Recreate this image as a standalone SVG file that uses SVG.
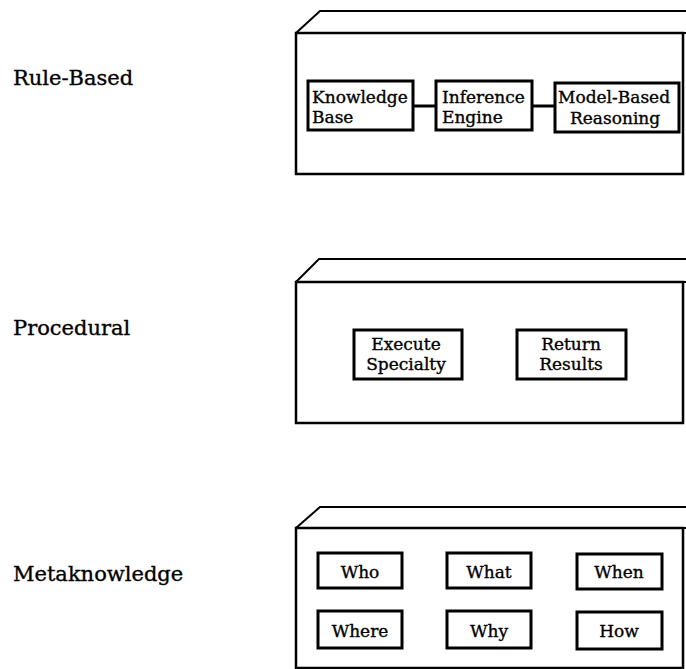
<svg xmlns="http://www.w3.org/2000/svg" width="686" height="669" viewBox="0 0 686 669">
  <style>
    text { font-family: "DejaVu Serif", "Liberation Serif", serif; font-size: 17px; fill: #000; stroke: #000; stroke-width: 0.35; }
    .side { font-size: 21px; }
    .mid { text-anchor: middle; }
    .shell { fill: #fff; stroke: #000; stroke-width: 2.5; stroke-linejoin: miter; }
    .lid { fill: #fff; stroke: #000; stroke-width: 2; stroke-linejoin: miter; }
    .box { fill: #fff; stroke: #000; stroke-width: 3; }
    .link { stroke: #000; stroke-width: 3; fill: none; }
  </style>

  <!-- row labels -->
  <text class="side" x="13" y="85">Rule-Based</text>
  <text class="side" x="13" y="335">Procedural</text>
  <text class="side" x="13" y="581">Metaknowledge</text>

  <!-- Rule-Based module -->
  <g id="rule-based">
    <path class="lid" d="M296 33 L320 11 L692 11 L692 33"/>
    <rect class="shell" x="296" y="33" width="387" height="141"/>
    <line class="lid" x1="683" y1="33" x2="692" y2="33"/>
  </g>
  <g id="knowledge-base">
    <rect class="box" x="308" y="81" width="105" height="49"/>
    <text x="312" y="103">Knowledge</text>
    <text x="312" y="123">Base</text>
  </g>
  <g id="inference-engine">
    <rect class="box" x="436" y="81" width="96" height="49"/>
    <text x="442" y="103">Inference</text>
    <text x="442" y="123">Engine</text>
  </g>
  <g id="model-based-reasoning">
    <rect class="box" x="555" y="83" width="124" height="49"/>
    <text x="558" y="103">Model-Based</text>
    <text x="570" y="124">Reasoning</text>
  </g>

  <!-- Procedural module -->
  <g id="procedural">
    <path class="lid" d="M296 282 L319 259 L692 259 L692 282"/>
    <rect class="shell" x="296" y="282" width="387" height="141"/>
    <line class="lid" x1="683" y1="282" x2="692" y2="282"/>
  </g>
  <g id="execute-specialty">
    <rect class="box" x="354" y="330" width="108" height="49"/>
    <text class="mid" x="406" y="350">Execute</text>
    <text class="mid" x="406" y="370">Specialty</text>
  </g>
  <g id="return-results">
    <rect class="box" x="517" y="330" width="109" height="49"/>
    <text class="mid" x="571" y="350">Return</text>
    <text class="mid" x="571" y="370">Results</text>
  </g>

  <!-- Metaknowledge module -->
  <g id="metaknowledge">
    <path class="lid" d="M296 528 L320 507 L692 507 L692 528"/>
    <rect class="shell" x="296" y="528" width="387" height="140"/>
    <line class="lid" x1="683" y1="528" x2="692" y2="528"/>
  </g>
  <g id="who">
    <rect class="box" x="318" y="553" width="84" height="35"/>
    <text class="mid" x="360" y="578">Who</text>
  </g>
  <g id="what">
    <rect class="box" x="447" y="553" width="84" height="35"/>
    <text class="mid" x="489" y="578">What</text>
  </g>
  <g id="when">
    <rect class="box" x="577" y="554" width="85" height="35"/>
    <text class="mid" x="619" y="578">When</text>
  </g>
  <g id="where">
    <rect class="box" x="318" y="611" width="84" height="37"/>
    <text class="mid" x="360" y="637">Where</text>
  </g>
  <g id="why">
    <rect class="box" x="447" y="611" width="84" height="37"/>
    <text class="mid" x="489" y="637">Why</text>
  </g>
  <g id="how">
    <rect class="box" x="577" y="612" width="85" height="37"/>
    <text class="mid" x="619" y="637">How</text>
  </g>

  <!-- connectors -->
  <g id="connectors">
    <line class="link" x1="413" y1="106" x2="436" y2="106"/>
    <line class="link" x1="532" y1="106" x2="555" y2="106"/>
  </g>
</svg>
